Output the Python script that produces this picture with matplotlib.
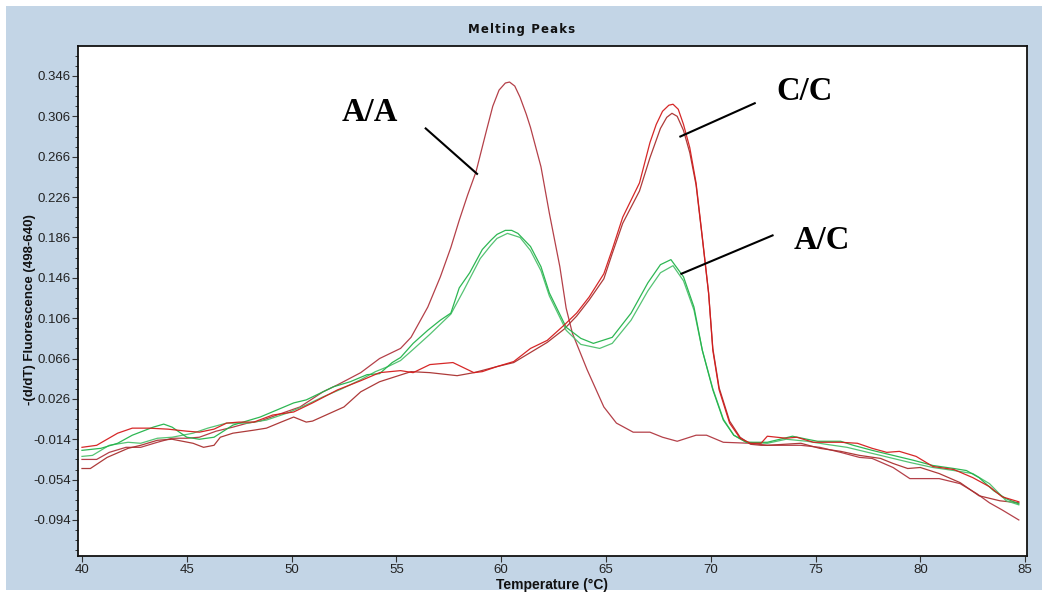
import numpy as np
import matplotlib.pyplot as plt
from matplotlib.patches import Rectangle
from matplotlib.ticker import FixedLocator

# melting peak traces, -(d/dT) fluorescence vs temperature
aa_temp = [40.0, 40.7, 41.3, 42.1, 42.8, 43.6, 44.3, 45.0, 45.6, 46.4, 47.2, 47.9, 48.5, 49.3, 50.4,
           51.5, 52.2, 53.3, 54.2, 55.2, 55.7, 56.5, 57.1, 57.6, 58.0, 58.4, 58.8, 59.3, 59.6, 59.9,
           60.2, 60.4, 60.65, 60.9, 61.2, 61.4, 61.9, 62.3, 62.8, 63.1, 63.4, 64.1, 64.9, 65.5, 66.3,
           67.1, 67.7, 68.4, 69.3, 69.8, 70.6, 71.9, 72.7, 74.3, 75.2, 76.2, 77.1, 77.7, 78.7, 79.5,
           80.9, 81.9, 82.7, 83.3, 83.9, 84.7]
aa_val = [-0.034, -0.034, -0.027, -0.022, -0.022, -0.017, -0.013, -0.013, -0.012, -0.006, -0.002, 0.002,
          0.004, 0.010, 0.018, 0.033, 0.040, 0.052, 0.066, 0.076, 0.087, 0.117, 0.147, 0.176, 0.203,
          0.228, 0.251, 0.292, 0.316, 0.332, 0.339, 0.340, 0.336, 0.325, 0.308, 0.295, 0.256, 0.210,
          0.157, 0.116, 0.091, 0.055, 0.018, 0.002, -0.007, -0.007, -0.012, -0.016, -0.010, -0.010,
          -0.017, -0.018, -0.020, -0.020, -0.022, -0.027, -0.032, -0.033, -0.042, -0.053, -0.053,
          -0.058, -0.068, -0.077, -0.084, -0.094]

cc1_temp = [40.0, 40.7, 41.7, 42.4, 43.2, 44.1, 45.0, 45.6, 46.3, 46.9, 47.5, 48.2, 49.1, 50.1, 51.0,
            52.2, 53.3, 54.2, 55.2, 55.8, 56.6, 57.7, 58.2, 58.7, 59.1, 59.8, 60.6, 61.4, 62.2, 63.0,
            63.6, 64.2, 64.9, 65.3, 65.8, 66.6, 67.1, 67.4, 67.7, 68.0, 68.2, 68.45, 68.7, 69.0, 69.3,
            69.6, 69.9, 70.1, 70.4, 70.9, 71.4, 71.9, 72.4, 72.7, 73.6, 74.1, 74.9, 76.2, 77.0, 77.7,
            78.4, 79.0, 79.8, 80.6, 81.6, 82.5, 83.3, 83.9, 84.7]
cc1_val = [-0.022, -0.020, -0.008, -0.003, -0.003, -0.004, -0.006, -0.007, -0.004, 0.002, 0.003, 0.003,
           0.010, 0.013, 0.022, 0.035, 0.044, 0.052, 0.054, 0.052, 0.060, 0.062, 0.057, 0.052, 0.053,
           0.058, 0.063, 0.076, 0.084, 0.099, 0.111, 0.127, 0.150, 0.174, 0.206, 0.240, 0.280, 0.298,
           0.311, 0.317, 0.318, 0.313, 0.298, 0.275, 0.240, 0.186, 0.131, 0.074, 0.035, 0.002, -0.013,
           -0.018, -0.018, -0.011, -0.013, -0.012, -0.017, -0.017, -0.018, -0.023, -0.027, -0.026,
           -0.031, -0.041, -0.044, -0.052, -0.061, -0.071, -0.076]

cc2_temp = [40.0, 40.4, 41.2, 42.2, 42.8, 43.6, 44.3, 45.3, 45.8, 46.3, 46.6, 47.2, 48.2, 48.8, 49.5,
            50.1, 50.7, 51.0, 52.5, 53.3, 54.2, 54.8, 55.7, 56.6, 57.9, 58.7, 59.8, 60.6, 61.4, 62.2,
            63.0, 63.6, 64.2, 64.9, 65.3, 65.8, 66.6, 67.1, 67.6, 67.9, 68.15, 68.4, 68.7, 69.0, 69.3,
            69.6, 69.9, 70.1, 70.4, 70.9, 71.4, 71.9, 72.4, 72.7, 74.3, 75.2, 76.2, 77.1, 78.1, 78.7,
            79.4, 80.0, 80.9, 81.9, 82.8, 83.8, 84.7]
cc2_val = [-0.043, -0.043, -0.032, -0.023, -0.020, -0.015, -0.014, -0.018, -0.022, -0.020, -0.012, -0.008,
           -0.005, -0.003, 0.003, 0.008, 0.003, 0.004, 0.018, 0.033, 0.043, 0.047, 0.053, 0.052, 0.049,
           0.052, 0.058, 0.062, 0.072, 0.082, 0.095, 0.108, 0.124, 0.145, 0.170, 0.200, 0.232, 0.265,
           0.294, 0.305, 0.309, 0.306, 0.292, 0.270, 0.238, 0.185, 0.130, 0.076, 0.037, 0.004, -0.012,
           -0.019, -0.020, -0.020, -0.018, -0.023, -0.026, -0.030, -0.033, -0.038, -0.043, -0.042,
           -0.048, -0.057, -0.070, -0.075, -0.077]

ac1_temp = [40.0, 40.9, 41.7, 42.4, 43.4, 43.9, 44.3, 45.0, 45.6, 46.3, 47.2, 48.5, 49.3, 50.1, 50.7,
            51.4, 52.0, 52.8, 53.6, 54.2, 54.8, 55.2, 55.8, 56.5, 57.1, 57.6, 58.0, 58.5, 59.1, 59.5,
            59.8, 60.2, 60.5, 60.8, 61.4, 61.9, 62.3, 62.7, 63.1, 63.8, 64.4, 65.3, 66.2, 67.0, 67.6,
            68.1, 68.7, 69.2, 69.6, 70.1, 70.6, 71.1, 71.7, 72.7, 73.9, 74.6, 75.1, 76.2, 76.8, 77.7,
            78.7, 79.7, 80.6, 81.6, 82.2, 82.8, 83.5, 84.1, 84.7]
ac1_val = [-0.025, -0.023, -0.018, -0.010, -0.002, 0.001, -0.002, -0.012, -0.014, -0.012, 0.000, 0.008,
           0.015, 0.022, 0.025, 0.032, 0.038, 0.043, 0.050, 0.051, 0.062, 0.067, 0.081, 0.094, 0.104,
           0.111, 0.136, 0.151, 0.174, 0.183, 0.189, 0.193, 0.193, 0.190, 0.177, 0.157, 0.131, 0.114,
           0.097, 0.086, 0.081, 0.087, 0.111, 0.141, 0.159, 0.164, 0.147, 0.117, 0.074, 0.035, 0.005,
           -0.010, -0.017, -0.017, -0.011, -0.014, -0.016, -0.016, -0.020, -0.025, -0.030, -0.035,
           -0.040, -0.043, -0.045, -0.052, -0.065, -0.073, -0.078]

ac2_temp = [40.0, 40.5, 41.3, 42.2, 42.8, 43.6, 44.3, 45.3, 46.0, 46.9, 47.9, 48.8, 49.8, 50.7, 51.5,
            52.4, 53.3, 54.0, 54.6, 55.2, 55.8, 56.6, 57.1, 57.6, 58.2, 59.0, 59.5, 59.8, 60.3, 60.9,
            61.4, 61.9, 62.3, 62.7, 63.1, 63.8, 64.7, 65.3, 66.2, 67.0, 67.6, 68.2, 68.7, 69.2, 69.6,
            70.1, 70.6, 71.1, 71.7, 72.7, 73.6, 74.6, 75.5, 76.5, 77.5, 78.5, 79.5, 80.6, 81.6, 82.5,
            83.3, 84.1, 84.7]
ac2_val = [-0.031, -0.030, -0.020, -0.017, -0.018, -0.013, -0.012, -0.008, -0.003, 0.002, 0.002, 0.005,
           0.012, 0.020, 0.028, 0.036, 0.045, 0.053, 0.058, 0.064, 0.075, 0.090, 0.100, 0.110, 0.133,
           0.165, 0.178, 0.185, 0.190, 0.186, 0.173, 0.153, 0.128, 0.111, 0.094, 0.080, 0.076, 0.081,
           0.104, 0.133, 0.151, 0.158, 0.143, 0.114, 0.074, 0.036, 0.006, -0.010, -0.017, -0.018,
           -0.014, -0.016, -0.019, -0.022, -0.027, -0.032, -0.037, -0.042, -0.045, -0.048, -0.058,
           -0.075, -0.079]

y_ticks = [-0.094, -0.054, -0.014, 0.026, 0.066, 0.106, 0.146, 0.186, 0.226, 0.266, 0.306, 0.346]
x_ticks = [40, 45, 50, 55, 60, 65, 70, 75, 80, 85]

# genotype callouts: (label, text position, line start, line end)
callouts = [
    ("A/A", (53.74, 0.310), (56.4, 0.294), (58.85, 0.249)),
    ("C/C", (74.5, 0.331), (72.1, 0.319), (68.55, 0.286)),
    ("A/C", (75.3, 0.183), (72.95, 0.188), (68.6, 0.150)),
]

bg = '#c3d5e6'

fig = plt.figure(figsize=(10.48, 5.95), dpi=100, facecolor='white')
fig.patches.append(Rectangle((6 / 1048, 5 / 595), 1036 / 1048, 584 / 595,
                             transform=fig.transFigure, facecolor=bg, edgecolor='none', zorder=-10))
ax = fig.add_axes([78 / 1048, 1 - 556 / 595, 949 / 1048, 510 / 595])
ax.set_facecolor('white')

traces = [
    (aa_temp, aa_val, '#b0363f'),
    (cc2_temp, cc2_val, '#a9302f'),
    (ac2_temp, ac2_val, '#4cc06c'),
    (ac1_temp, ac1_val, '#22b34a'),
    (cc1_temp, cc1_val, '#d41c1c'),
]
for t, v, c in traces:
    ax.plot(t, v, color=c, lw=0.9, alpha=0.95)

for label, txt, p0, p1 in callouts:
    ax.plot([p0[0], p1[0]], [p0[1], p1[1]], color='black', lw=1.5)
    ax.text(txt[0], txt[1], label, ha='center', va='center', fontsize=23.5,
            fontweight='bold', family='Liberation Serif', color='black')

ax.set_xlim(39.81, 85.09)
ax.set_ylim(-0.1297, 0.3757)
ax.set_xticks(x_ticks)
ax.set_yticks(y_ticks)
ax.set_yticklabels(['{:.3f}'.format(y) for y in y_ticks])
ax.yaxis.set_minor_locator(FixedLocator(np.arange(-0.124, 0.376, 0.01)))
ax.tick_params(axis='both', which='major', direction='out', length=4, width=0.8,
               colors='#333333', labelsize=9.5, labelcolor='#222222')
ax.tick_params(axis='y', which='minor', direction='out', length=2.5, width=0.7, color='#333333')
ax.tick_params(axis='x', pad=2)
ax.tick_params(axis='y', pad=1)
for lab in ax.get_xticklabels() + ax.get_yticklabels():
    lab.set_family('Liberation Sans')
for s in ax.spines.values():
    s.set_color('#111111')
    s.set_linewidth(1.3)

# spaced-out title lettering
title = '\u200a'.join('Melting Peaks')
fig.text(522 / 1048, 1 - 29 / 595, title, ha='center', va='center',
         fontsize=8.5, fontweight='bold', family='DejaVu Sans', color='#111111')
ax.set_xlabel('Temperature (°C)', fontsize=10, fontweight='bold', family='Liberation Sans',
              color='#111111', labelpad=1)
fig.text(30 / 1048, 1 - 310 / 595, '-(d/dT) Fluorescence (498-640)', rotation=90,
         ha='center', va='center', fontsize=9.5, fontweight='bold',
         family='Liberation Sans', color='#111111')

fig.savefig('out.png', dpi=100, facecolor=fig.get_facecolor())
